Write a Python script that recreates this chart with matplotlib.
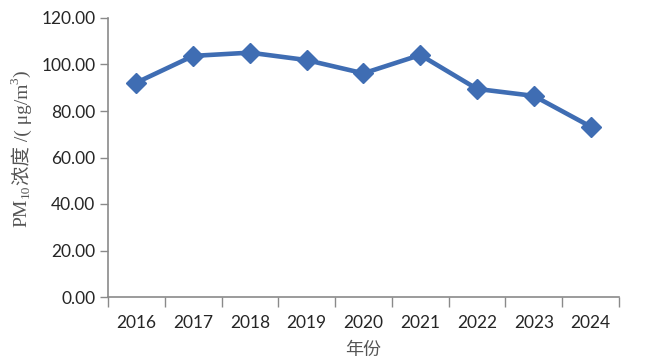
import matplotlib
matplotlib.use("Agg")
import matplotlib.pyplot as plt
from matplotlib.ticker import FixedLocator, NullFormatter, FormatStrFormatter

years = ["2016", "2017", "2018", "2019", "2020", "2021", "2022", "2023", "2024"]
pm10 = [92.2, 103.7, 105.1, 101.9, 96.2, 104.1, 89.5, 86.5, 73.3]
yticks = [0, 20, 40, 60, 80, 100, 120]

fig = plt.figure(figsize=(6.45, 3.6), dpi=100)
ax = fig.add_axes([0.1674, 0.175, 0.7923, 0.775])

x = list(range(len(years)))
ax.plot(x, pm10, color='#3F6DB3', lw=3.3, marker='D', markersize=10, zorder=3, clip_on=False)

ax.set_xlim(-0.5, len(years) - 0.5)
ax.set_ylim(0, 120)
ax.set_yticks(yticks)
ax.yaxis.set_major_formatter(FormatStrFormatter('%.2f'))

ax.set_xticks(x)
ax.set_xticklabels(years)
ax.tick_params(axis='x', which='major', length=0, pad=13)
ax.xaxis.set_minor_locator(FixedLocator([i - 0.5 for i in range(len(years) + 1)]))
ax.xaxis.set_minor_formatter(NullFormatter())
ax.tick_params(axis='x', which='minor', length=7, color='#8a8a8a', width=1)
ax.tick_params(axis='y', length=6, color='#8a8a8a', width=1, pad=3)

for lbl in ax.get_xticklabels() + ax.get_yticklabels():
    lbl.set_family(['Lato', 'DejaVu Sans'])
    lbl.set_fontsize(12.5)
    lbl.set_color('#262626')

for s in ['top', 'right']:
    ax.spines[s].set_visible(False)
for s in ['left', 'bottom']:
    ax.spines[s].set_color('#8a8a8a')
    ax.spines[s].set_linewidth(1.2)

ax.set_xlabel('年份', family=['Noto Sans CJK SC', 'DejaVu Sans'], fontsize=13, color='#555555', labelpad=7)

# y label built from pieces so that sub/superscripts and CJK glyphs all render
serif = ['Liberation Serif', 'Noto Sans CJK SC', 'DejaVu Sans']
col = '#555555'
fs, fss = 14, 9.5
t1 = fig.text(0.034, 0.37, 'PM', rotation=90, ha='center', va='bottom', family=serif, fontsize=fs, color=col)
t2 = ax.annotate('10', xy=(0.5, 1), xycoords=t1, xytext=(3, 0), textcoords='offset points',
                 rotation=90, ha='center', va='bottom', family=serif, fontsize=fss, color=col,
                 annotation_clip=False)
t3 = ax.annotate('浓度 /( μg/m', xy=(0.5, 1), xycoords=t2, xytext=(-3, 0), textcoords='offset points',
                 rotation=90, ha='center', va='bottom', family=serif, fontsize=fs, color=col,
                 annotation_clip=False)
t4 = ax.annotate('3', xy=(0.5, 1), xycoords=t3, xytext=(-4.5, 0), textcoords='offset points',
                 rotation=90, ha='center', va='bottom', family=serif, fontsize=fss, color=col,
                 annotation_clip=False)
t5 = ax.annotate(')', xy=(0.5, 1), xycoords=t4, xytext=(4.5, 0), textcoords='offset points',
                 rotation=90, ha='center', va='bottom', family=serif, fontsize=fs, color=col,
                 annotation_clip=False)

fig.savefig('out.png', dpi=100)
